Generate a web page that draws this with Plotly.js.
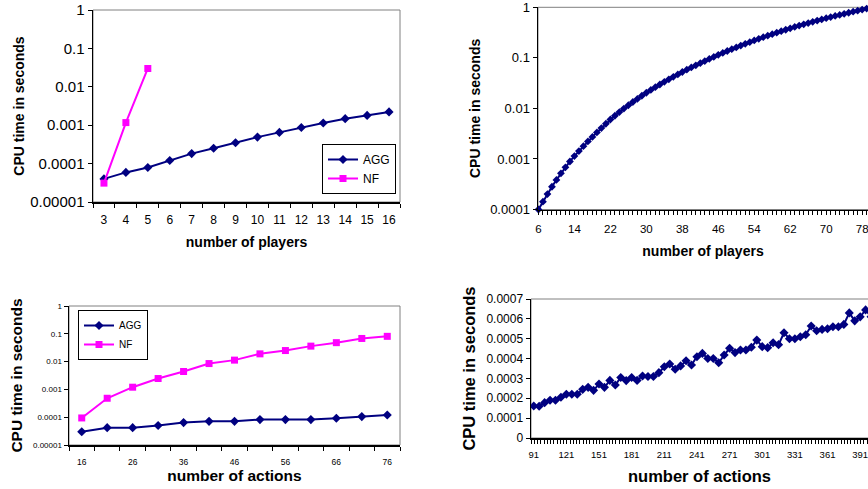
<!DOCTYPE html>
<html>
<head>
<meta charset="utf-8">
<script src="https://cdn.plot.ly/plotly-3.0.1.min.js"></script>
<style>
html,body{margin:0;padding:0;overflow:hidden;background:#fff;}
#chart{width:868px;height:489px;}
</style>
</head>
<body>
<div id="chart"></div>
<script>
// ---------- data ----------
const playersSmall = [3,4,5,6,7,8,9,10,11,12,13,14,15,16];
const aggPlayersSmall = [0.00004,0.000059,0.000079,0.00012,0.000182,0.00025,0.00035,0.00049,0.00065,0.00087,0.00114,0.00148,0.0018,0.00222];
const nfPlayersSmall = [3,4,5];
const nfPlayersTime = [0.000031,0.00117,0.030];

const playersLarge = [6,7,8,9,10,11,12,13,14,15,16,17,18,19,20,21,22,23,24,25,26,27,28,29,30,31,32,33,34,35,36,37,38,39,40,41,42,43,44,45,46,47,48,49,50,51,52,53,54,55,56,57,58,59,60,61,62,63,64,65,66,67,68,69,70,71,72,73,74,75,76,77,78,79,80];
const aggPlayersLarge = [0.0001,0.000143,0.000202,0.000282,0.000385,0.000519,0.000684,0.000891,0.001138,0.001432,
  0.001791,0.002218,0.002729,0.003342,0.004083,0.004966,0.006026,0.007161,0.008453,0.009908,
  0.01153,0.01337,0.01542,0.01778,0.02042,0.02323,0.0263,0.02972,0.0335,0.03758,
  0.04207,0.04699,0.05248,0.05834,0.06457,0.07128,0.07852,0.08649,0.09506,0.1045,
  0.1148,0.1253,0.1365,0.1483,0.1611,0.1746,0.1892,0.2046,0.2213,0.2382,
  0.2559,0.2742,0.2938,0.3148,0.3365,0.3597,0.3846,0.4093,0.4345,0.4603,
  0.4875,0.5164,0.5458,0.5768,0.6095,0.6412,0.6745,0.7079,0.743,0.7798,
  0.8185,0.859,0.9016,0.9441,0.9886];

const actionsSmall = [16,21,26,31,36,41,46,51,56,61,66,71,76];
const aggActionsSmall = [0.00003,0.000042,0.000042,0.00005,0.000064,0.000071,0.000071,0.000082,0.000082,0.000082,0.000092,0.000105,0.00012];
const nfActionsSmall = [0.000094,0.00048,0.0012,0.00246,0.0044,0.0085,0.0113,0.019,0.025,0.036,0.048,0.068,0.081];

const actionsLarge = [91,96,101,106,111,116,121,126,131,136,141,146,151,156,161,166,171,176,181,186,191,196,201,206,211,216,221,226,231,236,241,246,251,256,261,266,271,276,281,286,291,296,301,306,311,316,321,326,331,336,341,346,351,356,361,366,371,376,381,386,391,396,401];
const aggActionsLarge = [0.000161,0.00016,0.000178,0.00019,0.00019,0.000205,0.00022,0.00022,0.00022,0.000245,
  0.000255,0.00024,0.000272,0.000255,0.00029,0.000267,0.000305,0.000289,0.000305,0.00029,
  0.000312,0.00031,0.00031,0.000329,0.000359,0.000373,0.000346,0.000363,0.000389,0.000368,
  0.000409,0.000426,0.0004,0.0004,0.000379,0.000418,0.000452,0.00043,0.000443,0.000443,
  0.000457,0.000493,0.00046,0.000455,0.00048,0.00047,0.00053,0.0005,0.0005,0.00051,
  0.00052,0.000564,0.00054,0.000547,0.00055,0.00056,0.00056,0.000572,0.00063,0.00059,
  0.00061,0.000645,0.00061];

const logVals5 = [0.00001,0.0001,0.001,0.01,0.1,1];
const logText5 = ['0.00001','0.0001','0.001','0.01','0.1','1'];
const logVals4 = [0.0001,0.001,0.01,0.1,1];
const logText4 = ['0.0001','0.001','0.01','0.1','1'];
const linVals = [0,0.0001,0.0002,0.0003,0.0004,0.0005,0.0006,0.0007];
const linText = ['0','0.0001','0.0002','0.0003','0.0004','0.0005','0.0006','0.0007'];

const seriesNames = ['AGG','NF'];
const yTitle = 'CPU time in seconds';
const xTitlePlayers = 'number of players';
const xTitleActions = 'number of actions';

// ---------- styles ----------
const NAVY = '#000080';
const MAGENTA = '#FF00FF';
const FONT = 'Liberation Sans, Arial, sans-serif';
const W = 868, H = 489;
const px = v => v / W;
const py = v => 1 - v / H;

function baseAxis(extra) {
  return Object.assign({
    showline: true, linecolor: '#000', linewidth: 1.5,
    showgrid: false, zeroline: false,
    ticks: 'outside', ticklen: 4, tickwidth: 1, tickcolor: '#000',
    ticklabeloverflow: 'allow',
    fixedrange: true
  }, extra);
}

const traces = [
  {x: playersSmall, y: aggPlayersSmall, name: seriesNames[0], xaxis: 'x', yaxis: 'y', mode: 'lines+markers',
   line: {color: NAVY, width: 2}, marker: {symbol: 'diamond', size: 7, color: NAVY}, cliponaxis: false, legend: 'legend'},
  {x: nfPlayersSmall, y: nfPlayersTime, name: seriesNames[1], xaxis: 'x', yaxis: 'y', mode: 'lines+markers',
   line: {color: MAGENTA, width: 2}, marker: {symbol: 'square', size: 7, color: MAGENTA}, cliponaxis: false, legend: 'legend'},
  {x: playersLarge, y: aggPlayersLarge, name: seriesNames[0], xaxis: 'x2', yaxis: 'y2', mode: 'lines+markers',
   line: {color: NAVY, width: 2}, marker: {symbol: 'diamond', size: 6, color: NAVY}, cliponaxis: false, showlegend: false},
  {x: actionsSmall, y: aggActionsSmall, name: seriesNames[0], xaxis: 'x3', yaxis: 'y3', mode: 'lines+markers',
   line: {color: NAVY, width: 2}, marker: {symbol: 'diamond', size: 7, color: NAVY}, cliponaxis: false, legend: 'legend2'},
  {x: actionsSmall, y: nfActionsSmall, name: seriesNames[1], xaxis: 'x3', yaxis: 'y3', mode: 'lines+markers',
   line: {color: MAGENTA, width: 2}, marker: {symbol: 'square', size: 7, color: MAGENTA}, cliponaxis: false, legend: 'legend2'},
  {x: actionsLarge, y: aggActionsLarge, name: seriesNames[0], xaxis: 'x4', yaxis: 'y4', mode: 'lines+markers',
   line: {color: NAVY, width: 2}, marker: {symbol: 'diamond', size: 7, color: NAVY}, cliponaxis: true, showlegend: false}
];

const layout = {
  width: W, height: H,
  margin: {l: 0, r: 0, t: 0, b: 0, pad: 0},
  paper_bgcolor: '#fff', plot_bgcolor: '#fff',
  font: {family: FONT, color: '#000', size: 12},
  hovermode: false,
  // top-left
  xaxis: baseAxis({anchor: 'y', domain: [px(93), px(400)], range: [2.5, 16.5],
    tickvals: playersSmall, ticks: '', ticklabelstandoff: 6, tickfont: {size: 12},
    minor: {ticks: 'outside', ticklen: 4, tickcolor: '#000', tick0: 2.5, dtick: 1},
    title: {text: xTitlePlayers, font: {size: 14, weight: 'bold'}, standoff: 11}}),
  yaxis: baseAxis({anchor: 'x', type: 'log', domain: [py(202), py(10)], range: [-5, 0],
    tickvals: logVals5, ticktext: logText5, tickfont: {size: 15},
    title: {text: yTitle, font: {size: 14, weight: 'bold'}, standoff: 2}}),
  // top-right
  xaxis2: baseAxis({anchor: 'y2', domain: [px(538), 1], range: [5.9, 79.3],
    tick0: 6, dtick: 8, ticklabelstandoff: 4, tickfont: {size: 11.5},
    minor: {ticks: 'outside', ticklen: 4, tickcolor: '#000', tick0: 6, dtick: 1},
    title: {text: xTitlePlayers, font: {size: 14, weight: 'bold'}, standoff: 12}}),
  yaxis2: baseAxis({anchor: 'x2', type: 'log', domain: [py(209.5), py(7.3)], range: [-4, 0],
    tickvals: logVals4, ticktext: logText4, tickfont: {size: 13},
    title: {text: yTitle, font: {size: 14, weight: 'bold'}, standoff: 6}}),
  // bottom-left
  xaxis3: baseAxis({anchor: 'y3', domain: [px(69), px(400)], range: [13.5, 78.5],
    tick0: 16, dtick: 10, ticks: '', ticklabelstandoff: 8, tickfont: {size: 8.5},
    minor: {ticks: 'outside', ticklen: 4, tickcolor: '#000', tick0: 13.5, dtick: 5},
    title: {text: xTitleActions, font: {size: 15.5, weight: 'bold'}, standoff: 2}}),
  yaxis3: baseAxis({anchor: 'x3', type: 'log', domain: [py(445), py(306)], range: [-5, 0],
    tickvals: logVals5, ticktext: logText5, tickfont: {size: 8},
    title: {text: yTitle, font: {size: 15.5, weight: 'bold'}, standoff: 6}}),
  // bottom-right
  xaxis4: baseAxis({anchor: 'y4', domain: [px(531), 1], range: [88.5, 398.2],
    tick0: 91, dtick: 30, ticks: '', ticklabelstandoff: 7, tickfont: {size: 9.5},
    minor: {ticks: 'outside', ticklen: 4, tickcolor: '#000', tick0: 88.5, dtick: 3},
    title: {text: xTitleActions, font: {size: 16.5, weight: 'bold'}, standoff: 11}}),
  yaxis4: baseAxis({anchor: 'x4', domain: [py(438), py(299)], range: [0, 0.0007],
    tickvals: linVals, ticktext: linText, tickfont: {size: 12},
    title: {text: yTitle, font: {size: 16.5, weight: 'bold'}, standoff: 6}}),
  legend: {x: px(322), y: py(144), xanchor: 'left', yanchor: 'top',
    bgcolor: '#fff', bordercolor: '#000', borderwidth: 1, font: {size: 12}, itemwidth: 30, tracegroupgap: 0},
  legend2: {x: px(78), y: py(310), xanchor: 'left', yanchor: 'top',
    bgcolor: '#fff', bordercolor: '#000', borderwidth: 1, font: {size: 10}, itemwidth: 30, tracegroupgap: 0},
  shapes: [
    {type: 'rect', xref: 'x domain', yref: 'y domain', x0: 0, x1: 1, y0: 0, y1: 1, line: {color: '#808080', width: 1}, layer: 'below'},
    {type: 'rect', xref: 'x2 domain', yref: 'y2 domain', x0: 0, x1: 1.05, y0: 0, y1: 1, line: {color: '#808080', width: 1}, layer: 'below'},
    {type: 'rect', xref: 'x3 domain', yref: 'y3 domain', x0: 0, x1: 1, y0: 0, y1: 1, line: {color: '#808080', width: 1}, layer: 'below'},
    {type: 'rect', xref: 'x4 domain', yref: 'y4 domain', x0: 0, x1: 1.05, y0: 0, y1: 1, line: {color: '#808080', width: 1}, layer: 'below'}
  ]
};

Plotly.newPlot('chart', traces, layout, {displayModeBar: false, staticPlot: true});
</script>
</body>
</html>
